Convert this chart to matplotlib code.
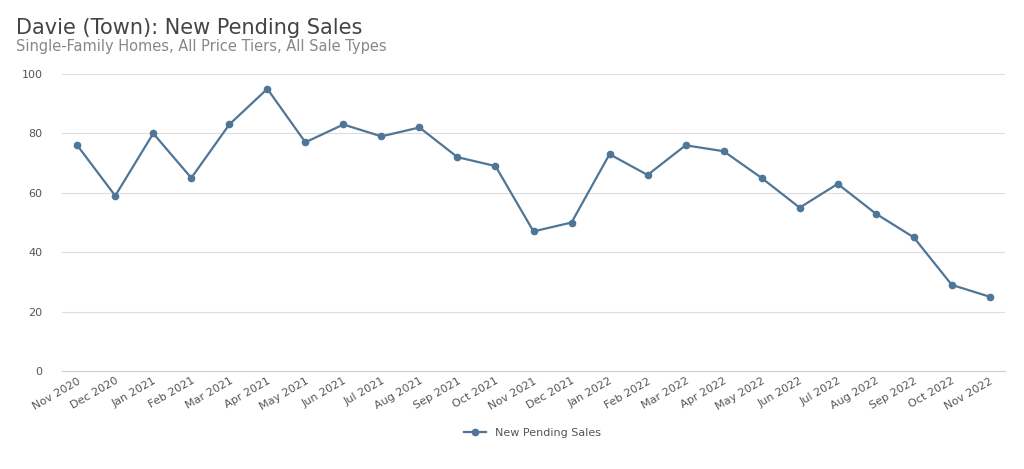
import matplotlib.pyplot as plt

months = ["Nov 2020","Dec 2020","Jan 2021","Feb 2021","Mar 2021","Apr 2021","May 2021","Jun 2021","Jul 2021","Aug 2021","Sep 2021","Oct 2021","Nov 2021","Dec 2021","Jan 2022","Feb 2022","Mar 2022","Apr 2022","May 2022","Jun 2022","Jul 2022","Aug 2022","Sep 2022","Oct 2022","Nov 2022"]
pending = [76,59,80,65,83,95,77,83,79,82,72,69,47,50,73,66,76,74,65,55,63,53,45,29,25]

fig = plt.figure(figsize=(10.24,4.69), dpi=100)
ax = fig.add_axes([62/1024, 1-371/469, (1005-62)/1024, (371-74)/469])
color = "#4f7697"
x = list(range(len(months)))
ax.plot(x, pending, color=color, lw=1.6, marker="o", ms=4.5, label="New Pending Sales")
ax.set_xlim(-0.4, 24.4)
ax.set_ylim(0, 100)
ax.set_yticks([0,20,40,60,80,100])
ax.grid(axis="y", color="#dddddd", lw=0.8)
ax.set_axisbelow(True)
for s in ["top","right","left"]:
    ax.spines[s].set_visible(False)
ax.spines["bottom"].set_color("#cccccc")
ax.tick_params(axis="y", length=0, labelsize=8, labelcolor="#555555", pad=14)
ax.tick_params(axis="x", length=0, labelsize=8, labelcolor="#555555")
ax.set_xticks(x)
ax.set_xticklabels(months, rotation=30, ha="right", rotation_mode="anchor")
fig.text(16/1024, 1-28/469, "Davie (Town): New Pending Sales", fontsize=15, color="#444444", va="center")
fig.text(16/1024, 1-47/469, "Single-Family Homes, All Price Tiers, All Sale Types", fontsize=10.5, color="#888888", va="center")
fig.legend(loc="center", bbox_to_anchor=(0.52, 1-433/469), frameon=False, fontsize=8, labelcolor="#555555")
fig.savefig("out.png", dpi=100)
